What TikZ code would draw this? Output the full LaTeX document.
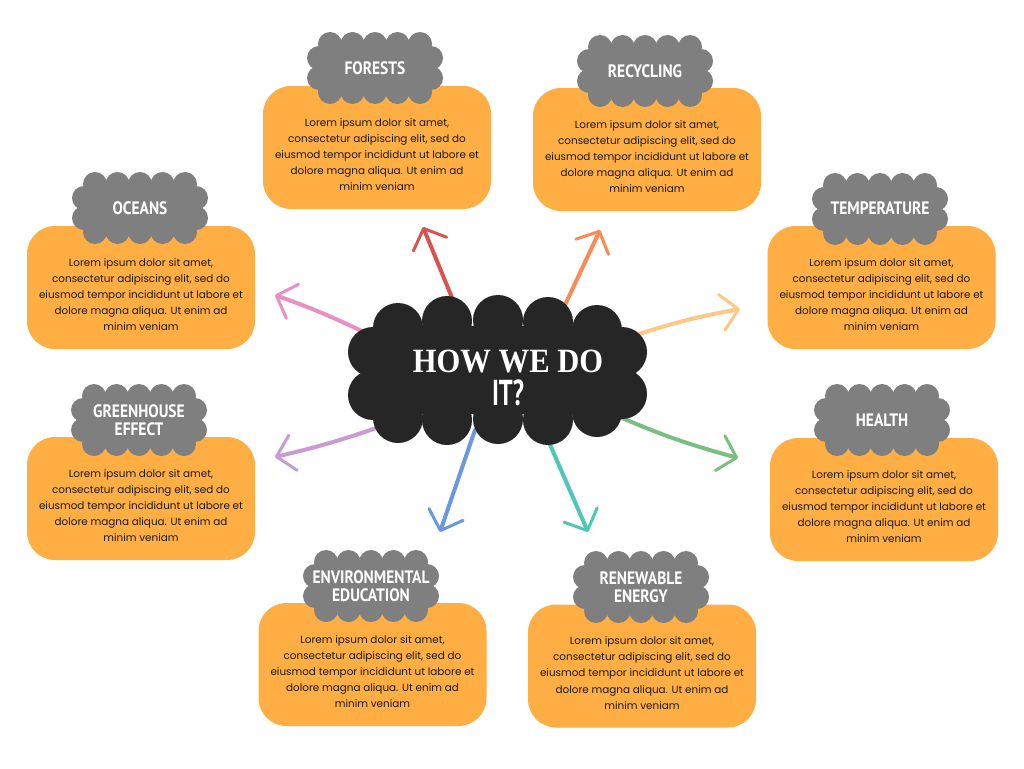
\documentclass[tikz,border=0pt]{standalone}
\usepackage{fontspec}
\setmainfont{Poppins}
\newfontfamily\labelfont{PT Sans}[FakeStretch=0.86]
\newfontfamily\itfont{PT Sans}[FakeStretch=0.68]
\newfontfamily\hwfont{Liberation Serif}[FakeStretch=0.9]
\usetikzlibrary{arrows.meta}
\definecolor{boxor}{HTML}{FEAE42}
\definecolor{cloudgray}{HTML}{7F7F7F}
\definecolor{darkcloud}{HTML}{262626}
\definecolor{textc}{HTML}{1A1A1A}
\definecolor{cred}{HTML}{D9534F}
\definecolor{corange}{HTML}{F98B56}
\definecolor{cpeach}{HTML}{FDC886}
\definecolor{cgreen}{HTML}{7BBE81}
\definecolor{cteal}{HTML}{4EC8B5}
\definecolor{cblue}{HTML}{6B98DD}
\definecolor{cpurple}{HTML}{C99BD2}
\definecolor{cpink}{HTML}{E88FC3}
\newcommand\loremtxt{Lorem ipsum dolor sit amet,\\consectetur adipiscing elit, sed do\\eiusmod tempor incididunt ut labore et\\dolore magna aliqua. Ut enim ad\\minim veniam}
\tikzset{
  box/.style={fill=boxor, rounded corners=28pt, minimum width=228pt, minimum height=123pt, inner sep=0pt},
  body/.style={align=center, text=textc, inner sep=0pt, font=\fontsize{10.4}{16.2}\selectfont},
  lab/.style={text=white, align=center, inner sep=0pt, font=\labelfont\bfseries\fontsize{18}{17.5}\selectfont},
  arr/.style={line width=4pt, line cap=round, -{Straight Barb[length=17pt,width=36pt,line width=3pt,round]}},
  lcloud/.pic={
    \fill[cloudgray] (-56,-24) rectangle (56,24);
    \foreach \x in {-45,-22.5,0,22.5,45}{
      \fill[cloudgray] (\x,-24) circle[radius=12];
      \fill[cloudgray] (\x,24) circle[radius=12];}
    \foreach \y in {-10,10}{
      \fill[cloudgray] (-56,\y) circle[radius=12];
      \fill[cloudgray] (56,\y) circle[radius=12];}
  }
}
\begin{document}
\begin{tikzpicture}[x=1pt,y=-1pt]
\useasboundingbox[fill=white] (0,0) rectangle (1024,768);
% arrow coordinates
\coordinate (s1) at (455,305); \coordinate (e1) at (423,227);
\coordinate (s2) at (565,305); \coordinate (e2) at (600,230);
\coordinate (s3) at (630,337); \coordinate (e3) at (740,309);
\coordinate (s4) at (615,415); \coordinate (e4) at (738,458);
\coordinate (s5) at (548,440); \coordinate (e5) at (588,532);
\coordinate (s6) at (475,430); \coordinate (e6) at (440,532);
\coordinate (s7) at (385,425); \coordinate (e7) at (275,457);
\coordinate (s8) at (370,335); \coordinate (e8) at (275,295);
\draw[arr,cred] (s1) -- (e1);
\draw[arr,corange] (s2) -- (e2);
\draw[arr,cpeach] (s3) to[bend left=4] (e3);
\draw[arr,cgreen] (s4) to[bend right=4] (e4);
\draw[arr,cteal] (s5) -- (e5);
\draw[arr,cblue] (s6) -- (e6);
\draw[arr,cpurple] (s7) to[bend left=3] (e7);
\draw[arr,cpink] (s8) to[bend right=3] (e8);
% central cloud
\fill[darkcloud] (380,326) rectangle (615,414);
\foreach \x/\y in {398/328,447/321,498/320,548/322,597/330,398/418,447/420,498/419,548/420,597/412,373/352,373/395,622/352,622/394}
  \fill[darkcloud] (\x,\y) circle[radius=25];
\node[anchor=base, text=white, inner sep=0pt, font=\hwfont\bfseries\fontsize{34}{34}\selectfont] (hub) at (508,372) {HOW WE DO};
\node[anchor=base, text=white, inner sep=0pt, font=\itfont\bfseries\fontsize{36}{36}\selectfont] (hub2) at (508,405) {IT?};
% boxes
\node[box] (b1) at (377,147.5) {};
\node[box] (b2) at (647,149.5) {};
\node[box] (b3) at (141,287.5) {};
\node[box] (b4) at (881.5,287.5) {};
\node[box] (b5) at (141,498.5) {};
\node[box] (b6) at (884,499.5) {};
\node[box] (b7) at (372.5,664.5) {};
\node[box] (b8) at (642,666) {};
\foreach \b in {1,...,8}
  \node[body] (t\b) at ([yshift=-7pt]b\b.center) {\loremtxt};
% label clouds
\pic (c1) at (375,68) {lcloud};
\pic (c2) at (645,71) {lcloud};
\pic (c3) at (140,208) {lcloud};
\pic (c4) at (880,209) {lcloud};
\pic (c5) at (139,420) {lcloud};
\pic (c6) at (882,420) {lcloud};
\pic (c7) at (371,586) {lcloud};
\pic (c8) at (641,587) {lcloud};
\node[lab] (l1) at (375,68) {FORESTS};
\node[lab] (l2) at (645,71) {RECYCLING};
\node[lab] (l3) at (140,208) {OCEANS};
\node[lab] (l4) at (880,208) {TEMPERATURE};
\node[lab] (l5) at (139,420) {GREENHOUSE\\EFFECT};
\node[lab] (l6) at (882,420) {HEALTH};
\node[lab] (l7) at (371,586) {ENVIRONMENTAL\\EDUCATION};
\node[lab] (l8) at (641,587) {RENEWABLE\\ENERGY};
\end{tikzpicture}
\end{document}
